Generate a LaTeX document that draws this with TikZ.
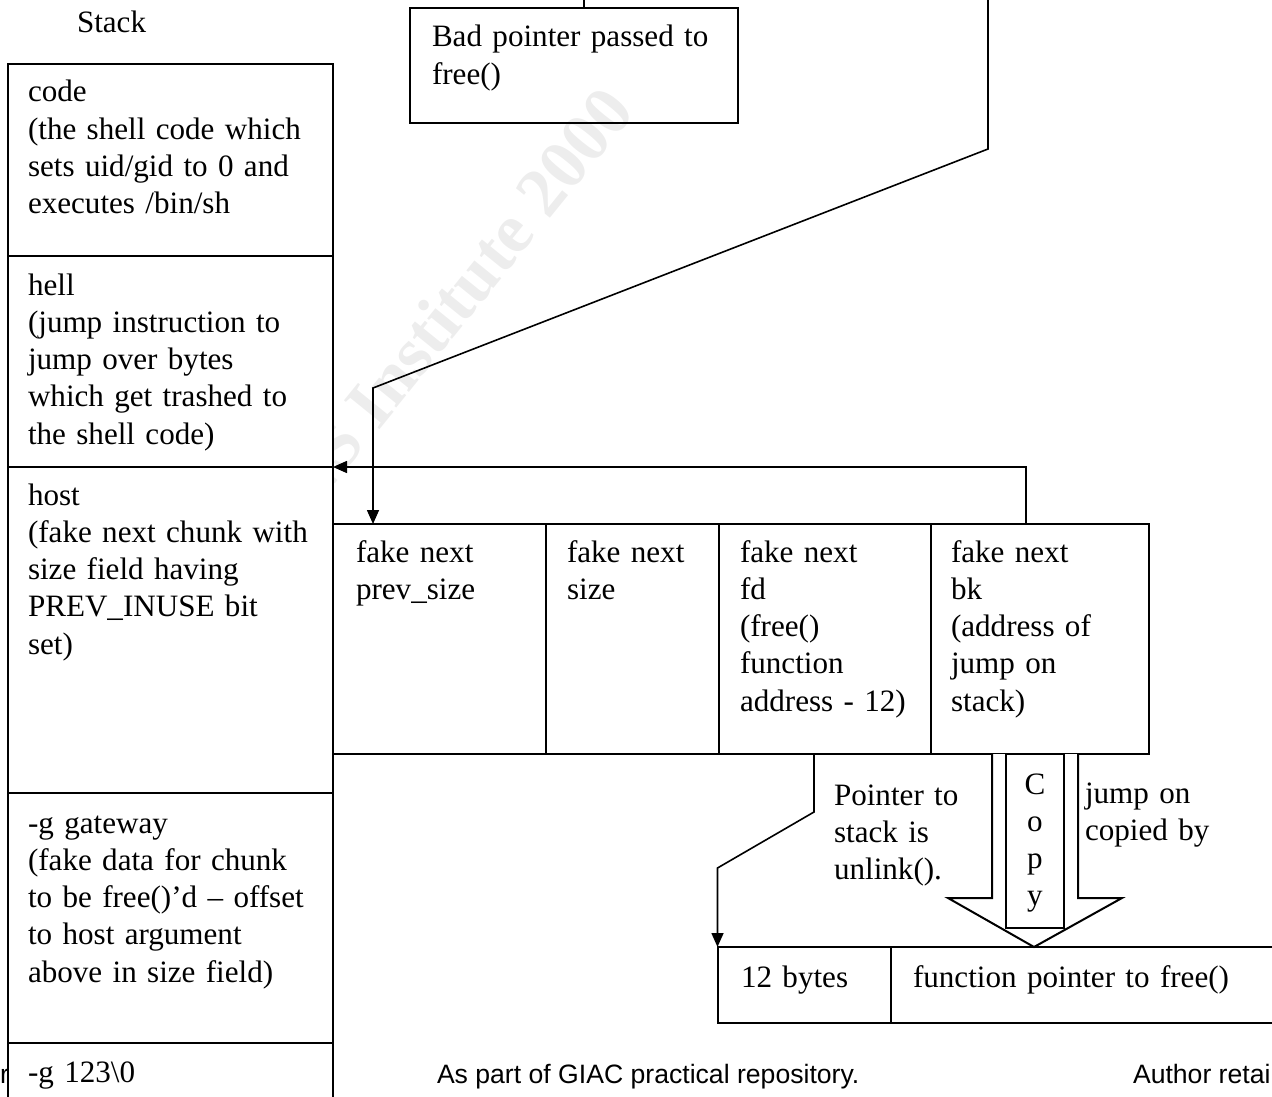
\documentclass[tikz,border=0pt]{standalone}
\usepackage{fontspec}
\setmainfont{Liberation Serif}
\newfontfamily\footfont{Liberation Sans}
\usetikzlibrary{arrows.meta,calc}
\begin{document}
\begin{tikzpicture}[x=1pt,y=-1pt,
  box/.style={draw, line width=2pt, fill=white, inner sep=0pt, outer sep=0pt, anchor=north west},
  txt/.style={anchor=base west, inner sep=0pt, outer sep=0pt, text width=400pt, align=left, font=\fontsize{31.1}{37.3}\selectfont},
  conn/.style={line width=1.6pt},
  arr/.style={conn, -{Triangle[length=14pt,width=12pt]}},
  foot/.style={inner sep=0pt, outer sep=0pt, font=\footfont\fontsize{26.6}{30}\selectfont},
  wmark/.style={rotate=51, text=black!7, inner sep=0pt, font=\bfseries\fontsize{70}{70}\selectfont}
]
\useasboundingbox (0,0) rectangle (1272,1097);
% background marks
\node[wmark] (wm) at (405,360) {© SANS Institute 2000};
\node[foot, anchor=base east] (footl) at (9,1083) {r};
% stack column
\node[txt] (stacklbl) at (77,33) {Stack};
\node[box, minimum width=325pt, minimum height=192pt] (code) at (8,64) {};
\node[box, minimum width=325pt, minimum height=211pt] (hell) at (8,256) {};
\node[box, minimum width=325pt, minimum height=326pt] (host) at (8,467) {};
\node[box, minimum width=325pt, minimum height=250pt] (gw) at (8,793) {};
\node[box, minimum width=325pt, minimum height=90pt] (g123) at (8,1043) {};
\node[txt] (codet) at (28,102) {code\\(the shell code which\\sets uid/gid to 0 and\\executes /bin/sh};
\node[txt] (hellt) at (28,295) {hell\\(jump instruction to\\jump over bytes\\which get trashed to\\the shell code)};
\node[txt] (hostt) at (28,505) {host\\(fake next chunk with\\size field having\\PREV\_INUSE bit\\set)};
\node[txt] (gwt) at (28,833) {-g gateway\\(fake data for chunk\\to be free()’d – offset\\to host argument\\above in size field)};
\node[txt] (g123t) at (28,1082) {-g 123\textbackslash 0};
% bad pointer box
\node[box, fill=none, minimum width=328pt, minimum height=115pt] (bad) at (410,8) {};
\node[txt] (badt) at (432,47) {Bad pointer passed to\\free()};
% fake chunk
\node[box, minimum width=212.5pt, minimum height=230pt] (prev) at (333,524) {};
\node[box, minimum width=173.5pt, minimum height=230pt] (size) at (545.5,524) {};
\node[box, minimum width=212pt, minimum height=230pt] (fd) at (719,524) {};
\node[box, minimum width=218pt, minimum height=230pt] (bk) at (931,524) {};
\node[txt] (prevt) at (356,562) {fake next\\prev\_size};
\node[txt] (sizet) at (567,562) {fake next\\size};
\node[txt] (fdt) at (740,562) {fake next\\fd\\(free()\\function\\address - 12)};
\node[txt] (bkt) at (951,562) {fake next\\bk\\(address of\\jump on\\stack)};
% target memory
\node[box, minimum width=173.5pt, minimum height=76pt] (bytes) at (717.5,947) {};
\node[box, minimum width=400pt, minimum height=76pt] (fptr) at (891,947) {};
\node[txt] (bytest) at (741,987) {12 bytes};
\node[txt] (fptrt) at (913,987) {function pointer to free()};
% copy block arrow
\draw[line width=2pt, fill=white] (992,754) -- (992,898) -- (948,898) -- (1034,947)
  -- (1122,898) -- (1078,898) -- (1078,754);
\node[box, minimum width=58pt, minimum height=174pt] (copybox) at (1006,754) {};
\node[inner sep=0pt, anchor=base, text width=40pt, align=center, font=\fontsize{31.1}{37}\selectfont] (copyt) at (1035,794) {C\\o\\p\\y};
\node[txt] (ptrt) at (834,805) {Pointer to\\stack is\\unlink().};
\node[txt] (jumpt) at (1085,803) {jump on\\copied by};
% connectors
\coordinate (topA) at (584,-5);
\draw[conn] (topA) -- (topA |- bad.north);
\coordinate (topB) at (988,-5);
\coordinate (kB1) at (988,149);
\coordinate (kB2) at (373,388);
\draw[arr] (topB) -- (kB1) -- (kB2) -- (kB2 |- prev.north);
\coordinate (kC) at (1026,0);
\draw[arr] (kC |- bk.north) |- (host.north east);
\coordinate (kD1) at (814,812);
\coordinate (kD2) at (717.5,868);
\draw[arr] (kD1 |- fd.south) -- (kD1) -- (kD2) -- (bytes.north west);
% footer
\node[foot, anchor=base west] (foot1) at (437,1083) {As part of GIAC practical repository.};
\node[foot, anchor=base west] (foot2) at (1133,1083) {Author retains full rights.};
\end{tikzpicture}
\end{document}
